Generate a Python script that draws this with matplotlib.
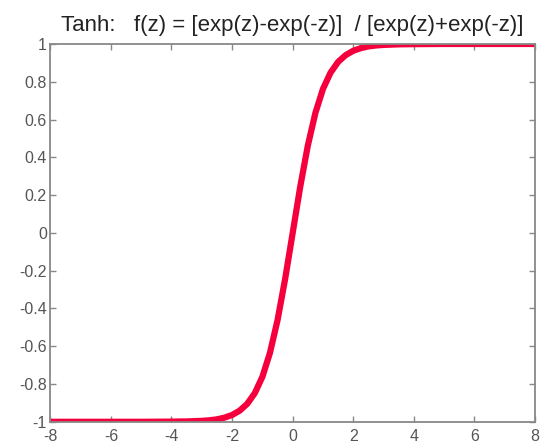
import matplotlib
matplotlib.use('Agg')
import matplotlib.pyplot as plt

# values
z = [-8, -7, -6, -5, -4, -3.5, -3, -2.75, -2.5, -2.25, -2, -1.75, -1.5,
     -1.25, -1, -0.75, -0.5, -0.25, 0, 0.25, 0.5, 0.75, 1, 1.25, 1.5,
     1.75, 2, 2.25, 2.5, 2.75, 3, 3.5, 4, 5, 6, 7, 8]
fz = [-1.0, -1.0, -1.0, -1.0, -0.999, -0.998, -0.995, -0.992, -0.987, -0.978,
      -0.964, -0.941, -0.905, -0.848, -0.762, -0.635, -0.462, -0.245, 0.0,
      0.245, 0.462, 0.635, 0.762, 0.848, 0.905, 0.941, 0.964, 0.978, 0.987,
      0.992, 0.995, 0.998, 0.999, 1.0, 1.0, 1.0, 1.0]
xticks = [-8, -6, -4, -2, 0, 2, 4, 6, 8]
yticks = [-1, -0.8, -0.6, -0.4, -0.2, 0, 0.2, 0.4, 0.6, 0.8, 1]
ylabels = ['-1', '-0.8', '-0.6', '-0.4', '-0.2', '0', '0.2', '0.4', '0.6', '0.8', '1']

plt.rcParams['font.family'] = ['Liberation Sans', 'DejaVu Sans']

fig = plt.figure(figsize=(5.41, 4.44), dpi=100)
ax = fig.add_axes([0.093, 0.05, 0.896, 0.851])
ax.plot(z, fz, color='#f5003c', lw=4.5, solid_capstyle='butt')
ax.set_xlim(-8, 8)
ax.set_ylim(-1, 1)
ax.set_xticks(xticks)
ax.set_xticklabels([str(t) for t in xticks])
ax.set_yticks(yticks)
ax.set_yticklabels(ylabels)
ax.tick_params(direction='in', length=4, width=1, color='#888888',
               labelcolor='#555555', labelsize=11.5, top=True, right=True)
ax.tick_params(axis='x', pad=5)
ax.tick_params(axis='y', pad=2.5)
for s in ax.spines.values():
    s.set_color('#888888')
    s.set_linewidth(1.3)
ax.set_title('Tanh:   f(z) = [exp(z)-exp(-z)]  / [exp(z)+exp(-z)]',
             fontsize=16, color='#222222', pad=9)

fig.savefig('out.png', dpi=100)
